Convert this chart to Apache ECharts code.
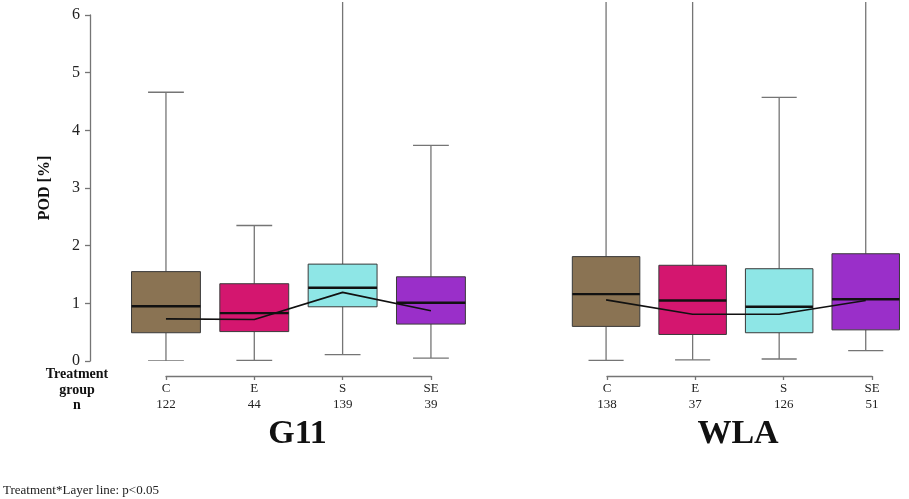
<!DOCTYPE html>
<html>
<head>
<meta charset="utf-8">
<script src="https://cdn.jsdelivr.net/npm/echarts@6/dist/echarts.min.js"></script>
<style>
  html, body { margin: 0; padding: 0; background: #fff; }
  #main { width: 909px; height: 499px; }
</style>
</head>
<body>
<div id="main"></div>
<script>
// treatment groups and sample sizes
var groups = ['C', 'E', 'S', 'SE'];
var g11N = [122, 44, 139, 39];
var wlaN = [138, 37, 126, 51];

// G11 boxes: lower whisker, Q1, median, Q3, upper whisker
var g11Low = [0.00, 0.01, 0.11, 0.05];
var g11Q1 = [0.49, 0.51, 0.94, 0.64];
var g11Med = [0.95, 0.83, 1.27, 1.01];
var g11Q3 = [1.55, 1.34, 1.68, 1.46];
var g11High = [4.66, 2.35, 7.5, 3.74];
var g11Line = [0.73, 0.72, 1.19, 0.87];

// WLA boxes
var wlaLow = [0.01, 0.02, 0.035, 0.18];
var wlaQ1 = [0.60, 0.46, 0.49, 0.54];
var wlaMed = [1.16, 1.05, 0.94, 1.07];
var wlaQ3 = [1.81, 1.66, 1.60, 1.86];
var wlaHigh = [7.5, 7.5, 4.57, 7.5];
var wlaLine = [1.06, 0.81, 0.81, 1.05];

var yTicks = [0, 1, 2, 3, 4, 5, 6];
var groupColors = ['#8a7353', '#d4166f', '#8ee6e6', '#9a2fc9'];

var serif = '"Liberation Serif", "DejaVu Serif", serif';
var axisGray = '#757575';

function boxRows(low, q1, med, q3, high){
	var rows = [];
	for(var i=0; i<groups.length; i++){
		rows.push([i, low[i], q1[i], med[i], q3[i], high[i]]);
	}
	return rows;
}

//画箱线图 (whiskers, caps, box, median)
function renderBox(params, api){
	var x = api.value(0);
	var pLow = api.coord([x, api.value(1)]);
	var pQ1 = api.coord([x, api.value(2)]);
	var pMed = api.coord([x, api.value(3)]);
	var pQ3 = api.coord([x, api.value(4)]);
	var pHigh = api.coord([x, api.value(5)]);
	var bw = api.size([1, 0])[0] * 0.78;
	var cw = bw * 0.52;
	var cx = pMed[0];
	var wStyle = {stroke: axisGray, lineWidth: 1.3};
	return {
		type: 'group',
		children: [
			{type: 'line', shape: {x1: cx, y1: pLow[1], x2: cx, y2: pQ1[1]}, style: wStyle},
			{type: 'line', shape: {x1: cx, y1: pQ3[1], x2: cx, y2: pHigh[1]}, style: wStyle},
			{type: 'line', shape: {x1: cx - cw/2, y1: pLow[1], x2: cx + cw/2, y2: pLow[1]}, style: wStyle},
			{type: 'line', shape: {x1: cx - cw/2, y1: pHigh[1], x2: cx + cw/2, y2: pHigh[1]}, style: wStyle},
			{type: 'rect', shape: {x: cx - bw/2, y: pQ3[1], width: bw, height: pQ1[1] - pQ3[1]},
				style: {fill: groupColors[x], stroke: '#3a3a3a', lineWidth: 1}},
			{type: 'line', shape: {x1: cx - bw/2, y1: pMed[1], x2: cx + bw/2, y2: pMed[1]},
				style: {stroke: '#111', lineWidth: 2.4}}
		]
	};
}

function label(txt, x, y, size, bold){
	return {type: 'text', x: x, y: y, style: {text: txt, align: 'center', verticalAlign: 'middle',
		fontFamily: serif, fontWeight: bold ? 'bold' : 'normal', fontSize: size, fill: '#111'}};
}

var unit = 346 / 6;
var boxMax = 359 / unit;

var mychart = echarts.init(document.getElementById('main'), null, {renderer: 'canvas'});
mychart.setOption({
	backgroundColor: '#fff',
	animation: false,
	grid: [
		{left: 90, top: 15, width: 10, height: 346},          // y axis
		{left: 121.8, top: 2, width: 353.3, height: 359},     // G11 boxes
		{left: 562.8, top: 2, width: 353.3, height: 359},     // WLA boxes
		{left: 166, top: 366, width: 265, height: 10},        // G11 bracket
		{left: 607, top: 366, width: 265, height: 10}         // WLA bracket
	],
	xAxis: [
		{gridIndex: 0, type: 'value', show: false},
		{gridIndex: 1, type: 'category', data: groups, show: false},
		{gridIndex: 2, type: 'category', data: groups, show: false},
		{
			gridIndex: 3, type: 'category', data: groups, boundaryGap: false,
			axisLine: {lineStyle: {color: axisGray, width: 1.3}},
			axisTick: {length: 4, lineStyle: {color: axisGray, width: 1.3}},
			axisLabel: {
				margin: 5, color: '#222', fontFamily: serif, fontSize: 13, lineHeight: 16,
				formatter: function(v, i){ return v + '\n' + g11N[i]; }
			}
		},
		{
			gridIndex: 4, type: 'category', data: groups, boundaryGap: false,
			axisLine: {lineStyle: {color: axisGray, width: 1.3}},
			axisTick: {length: 4, lineStyle: {color: axisGray, width: 1.3}},
			axisLabel: {
				margin: 5, color: '#222', fontFamily: serif, fontSize: 13, lineHeight: 16,
				formatter: function(v, i){ return v + '\n' + wlaN[i]; }
			}
		}
	],
	yAxis: [
		{
			gridIndex: 0, type: 'value', min: yTicks[0], max: yTicks[yTicks.length-1], interval: 1,
			splitLine: {show: false},
			axisLine: {show: true, lineStyle: {color: axisGray, width: 1.3}},
			axisTick: {show: true, length: 5, lineStyle: {color: axisGray, width: 1.3}},
			axisLabel: {margin: 10, color: '#222', fontFamily: serif, fontSize: 16},
			name: 'POD [%]', nameLocation: 'middle', nameGap: 37, nameRotate: 90,
			nameTextStyle: {fontFamily: serif, fontWeight: 'bold', fontSize: 16, color: '#111'}
		},
		{gridIndex: 1, type: 'value', min: 0, max: boxMax, show: false},
		{gridIndex: 2, type: 'value', min: 0, max: boxMax, show: false},
		{gridIndex: 3, type: 'value', show: false},
		{gridIndex: 4, type: 'value', show: false}
	],
	series: [
		{
			name: 'G11', type: 'custom', xAxisIndex: 1, yAxisIndex: 1, clip: true,
			renderItem: renderBox, encode: {x: 0, y: [1, 2, 3, 4, 5]},
			data: boxRows(g11Low, g11Q1, g11Med, g11Q3, g11High)
		},
		{
			name: 'WLA', type: 'custom', xAxisIndex: 2, yAxisIndex: 2, clip: true,
			renderItem: renderBox, encode: {x: 0, y: [1, 2, 3, 4, 5]},
			data: boxRows(wlaLow, wlaQ1, wlaMed, wlaQ3, wlaHigh)
		},
		{
			name: 'G11 line', type: 'line', xAxisIndex: 1, yAxisIndex: 1, data: g11Line,
			symbol: 'none', lineStyle: {color: '#111', width: 1.6}, z: 5
		},
		{
			name: 'WLA line', type: 'line', xAxisIndex: 2, yAxisIndex: 2, data: wlaLine,
			symbol: 'none', lineStyle: {color: '#111', width: 1.6}, z: 5
		}
	],
	graphic: [
		label('Treatment', 77, 374, 14, true),
		label('group', 77, 390, 14, true),
		label('n', 77, 405, 14, true),
		label('G11', 297.5, 434, 34, true),
		label('WLA', 738, 434, 34, true),
		{type: 'text', x: 3, y: 491, style: {text: 'Treatment*Layer line: p<0.05', verticalAlign: 'middle',
			fontFamily: serif, fontSize: 13, fill: '#222'}}
	]
});
</script>
</body>
</html>
